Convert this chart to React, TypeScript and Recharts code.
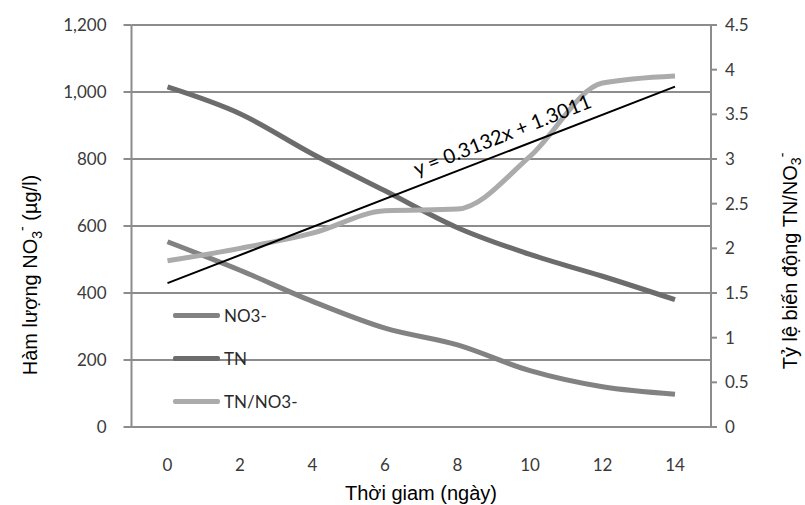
import React from "react";
import { LineChart, Line, XAxis, YAxis, CartesianGrid } from "recharts";

const days = ["0", "2", "4", "6", "8", "10", "12", "14"];
const no3Values = [553, 468, 375, 295, 245, 168, 120, 98];
const tnValues = [1015, 935, 815, 705, 595, 515, 450, 380];
const ratioValues = [1.86, 2.0, 2.17, 2.42, 2.44, 3.03, 3.85, 3.93];
const trendValues = [1.61, null, null, null, null, null, null, 3.81];
const leftTicks = [0, 200, 400, 600, 800, 1000, 1200];
const rightTicks = [0, 0.5, 1, 1.5, 2, 2.5, 3, 3.5, 4, 4.5];
const trendEquation = "y = 0.3132x + 1.3011";

const seriesInfo = [
  { key: "no3", name: "NO3-", color: "#828282" },
  { key: "tn", name: "TN", color: "#6c6c6c" },
  { key: "ratio", name: "TN/NO3-", color: "#ababab" },
];

const data = days.map((d, i) => ({
  day: d,
  no3: no3Values[i],
  tn: tnValues[i],
  ratio: ratioValues[i],
  trend: trendValues[i],
}));

const tickFont = { fontFamily: "Lato, 'Open Sans', sans-serif", fontSize: 17, fill: "#3a3a3a" };
const titleFont = "'Liberation Sans', Arial, sans-serif";

export default function App() {
  return (
    <div style={{ position: "absolute", left: 0, top: 0, width: 805, height: 505, background: "#fff" }}>
      <LineChart
        width={805}
        height={505}
        data={data}
        margin={{ top: 25, right: 0, bottom: 0, left: 0 }}
      >
        <CartesianGrid yAxisId="left" vertical={false} stroke="#8c8c8c" strokeWidth={2} />
        <XAxis
          dataKey="day"
          padding={{ left: 36, right: 36 }}
          height={78}
          tickLine={false}
          tickSize={0}
          tickMargin={32}
          axisLine={{ stroke: "#8c8c8c", strokeWidth: 2 }}
          tick={tickFont}
        />
        <YAxis
          yAxisId="left"
          width={131.5}
          domain={[0, 1200]}
          ticks={leftTicks}
          interval={0}
          tickFormatter={(v: number) => v.toLocaleString("en-US")}
          tickSize={8}
          tickMargin={17}
          tickLine={{ stroke: "#8c8c8c", strokeWidth: 2 }}
          axisLine={{ stroke: "#8c8c8c", strokeWidth: 2 }}
          tick={tickFont}
        />
        <YAxis
          yAxisId="right"
          orientation="right"
          width={94}
          domain={[0, 4.5]}
          ticks={rightTicks}
          interval={0}
          tickSize={6}
          tickMargin={8}
          tickLine={{ stroke: "#8c8c8c", strokeWidth: 2 }}
          axisLine={{ stroke: "#8c8c8c", strokeWidth: 2 }}
          tick={{ ...tickFont, textAnchor: "start" }}
        />
        <Line
          yAxisId="left"
          dataKey="no3"
          name="NO3-"
          type="monotone"
          stroke="#828282"
          strokeWidth={5}
          dot={false}
          isAnimationActive={false}
        />
        <Line
          yAxisId="left"
          dataKey="tn"
          name="TN"
          type="monotone"
          stroke="#6c6c6c"
          strokeWidth={5}
          dot={false}
          isAnimationActive={false}
        />
        <Line
          yAxisId="right"
          dataKey="ratio"
          name="TN/NO3-"
          type="monotone"
          stroke="#ababab"
          strokeWidth={5}
          dot={false}
          isAnimationActive={false}
        />
        <Line
          yAxisId="right"
          dataKey="trend"
          type="linear"
          connectNulls
          stroke="#000"
          strokeWidth={2}
          dot={false}
          legendType="none"
          isAnimationActive={false}
        />
      </LineChart>
      <div
        style={{
          position: "absolute",
          left: 173,
          top: 294,
          fontFamily: "Lato, sans-serif",
          fontSize: 17,
          color: "#2a2a2a",
        }}
      >
        {seriesInfo.map((s) => (
          <div key={s.key} style={{ display: "flex", alignItems: "center", height: 43 }}>
            <div style={{ width: 47, height: 5, background: s.color, borderRadius: 2 }} />
            <span style={{ marginLeft: 4 }}>{s.name}</span>
          </div>
        ))}
      </div>
      <svg
        width={805}
        height={505}
        style={{ position: "absolute", left: 0, top: 0, pointerEvents: "none" }}
      >
        <text
          transform="translate(37 275) rotate(-90)"
          textAnchor="middle"
          fontFamily={titleFont}
          fontSize={20}
          fill="#000"
        >
          Hàm lượng NO
          <tspan fontSize={14} dy={5}>3</tspan>
          <tspan fontSize={14} dy={-15}>-</tspan>
          <tspan dy={10}> (µg/l)</tspan>
        </text>
        <text
          transform="translate(797 261) rotate(-90)"
          textAnchor="middle"
          fontFamily={titleFont}
          fontSize={20}
          fill="#000"
        >
          Tỷ lệ biến động TN/NO
          <tspan fontSize={14} dy={4}>3</tspan>
          <tspan fontSize={14} dy={-14}>-</tspan>
        </text>
        <text
          x={421}
          y={500}
          textAnchor="middle"
          fontFamily={titleFont}
          fontSize={20}
          fill="#000"
        >
          Thời giam (ngày)
        </text>
        <text
          transform="translate(503 137) rotate(-21.5)"
          textAnchor="middle"
          dominantBaseline="middle"
          fontFamily="Lato, sans-serif"
          fontSize={20}
          fill="#000"
        >
          {trendEquation}
        </text>
      </svg>
    </div>
  );
}
